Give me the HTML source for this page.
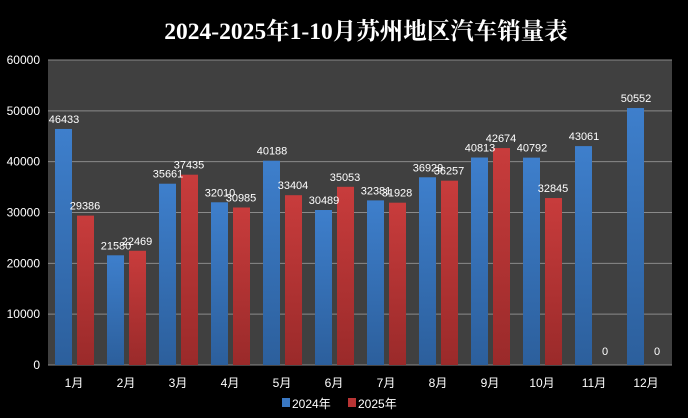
<!DOCTYPE html>
<html><head><meta charset="utf-8">
<style>
html,body{margin:0;padding:0;background:#000;}
body{width:688px;height:418px;overflow:hidden;}
svg{display:block;}
svg text{font-family:"Liberation Sans","Noto Sans CJK SC",sans-serif;fill:#fff;}
</style></head><body>
<svg id="c" width="688" height="418" xmlns="http://www.w3.org/2000/svg">
<defs>
<linearGradient id="gb" x1="0" y1="0" x2="0" y2="1"><stop offset="0" stop-color="#3e7fcc"/><stop offset="1" stop-color="#2c5f9c"/></linearGradient>
<linearGradient id="gr" x1="0" y1="0" x2="0" y2="1"><stop offset="0" stop-color="#c83c3c"/><stop offset="1" stop-color="#9a2a2a"/></linearGradient>
</defs>
<rect x="0" y="0" width="688" height="418" fill="#000"/>
<text x="366" y="39" text-anchor="middle" font-size="23.5" font-weight="bold" style="font-family:'Liberation Serif','Noto Serif CJK SC',serif">2024-2025年1-10月苏州地区汽车销量表</text>
<rect x="48" y="60" width="624" height="305" fill="#404040"/>
<g id="g"></g>
<text x="292" y="408" font-size="12">2024年</text>
<text x="358" y="408" font-size="12">2025年</text>
<rect x="282" y="398" width="8" height="9" fill="#3a78c3"/>
<rect x="348" y="398" width="8" height="9" fill="#b83434"/>
</svg>
<script>
var a=[46433,21580,35661,32010,40188,30489,32381,36929,40813,40792,43061,50552];
var b=[29386,22469,37435,30985,33404,35053,31928,36257,42674,32845,0,0];
var s='';
function Y(v){return 365-v*305/60000;}
for(var i=0;i<=6;i++){var y=365-i*305/6;
 s+='<line x1="48" x2="672" y1="'+y+'" y2="'+y+'" stroke="#8a8a8a" stroke-width="1"/>';
 s+='<text x="40" y="'+(y+4)+'" text-anchor="end" font-size="12">'+(i*10000)+'</text>';}
for(var i=0;i<12;i++){var c=48+26+i*52;
 var ya=Y(a[i]),yb=Y(b[i]);
 s+='<rect x="'+(c-19)+'" y="'+ya+'" width="17" height="'+(365-ya)+'" fill="url(#gb)"/>';
 if(b[i]>0)s+='<rect x="'+(c+3)+'" y="'+yb+'" width="17" height="'+(365-yb)+'" fill="url(#gr)"/>';
 s+='<text x="'+(c-10)+'" y="'+(ya-6)+'" text-anchor="middle" font-size="11">'+a[i]+'</text>';
 s+='<text x="'+(c+11)+'" y="'+(b[i]>0?yb-6:355)+'" text-anchor="middle" font-size="11">'+b[i]+'</text>';
 s+='<text x="'+c+'" y="387" text-anchor="middle" font-size="12">'+(i+1)+'月</text>';}
document.getElementById('g').innerHTML=s;
</script>
</body></html>
